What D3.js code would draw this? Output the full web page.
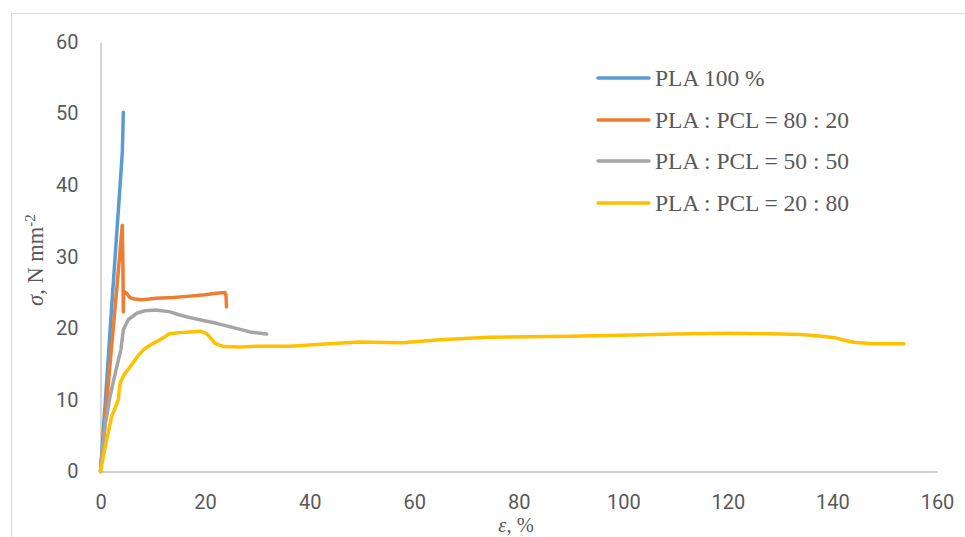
<!DOCTYPE html>
<html>
<head>
<meta charset="utf-8">
<script src="https://cdn.jsdelivr.net/npm/d3@7"></script>
<style>
  html, body { margin: 0; padding: 0; background: #fff; }
  svg { display: block; }
</style>
</head>
<body>
<svg id="chart" width="965" height="537"></svg>
<script>
// ---- data ----
const seriesNames = ["PLA 100 %", "PLA : PCL = 80 : 20", "PLA : PCL = 50 : 50", "PLA : PCL = 20 : 80"];
const seriesColors = ["#5b9bd5", "#ed7d31", "#a5a5a5", "#ffc000"];

const pla100 = [[0,0],[1,10.6],[2.1,22.6],[3.1,33.2],[4.17,44.5],[4.28,47.5],[4.36,50.2]];
const pla80 = [[0,0],[1,8.2],[2,16.4],[3,24.6],[3.6,29.6],[4.17,34.4],[4.3,28],[4.36,22.3],[4.42,24.6],[4.6,25.1],[5.0,24.9],[5.6,24.3],[6.5,24.1],[8,24.0],[10.7,24.2],[14,24.3],[17.1,24.5],[20,24.7],[22.2,24.9],[23.8,25.0],[24.0,24.6],[24.1,23.0]];
const pla50 = [[0,0],[0.3,2.5],[1,7],[1.82,10.45],[3.1,14.6],[3.9,17.0],[4.1,18.2],[4.36,19.8],[5.3,21.2],[6.9,22.1],[8.5,22.45],[10.7,22.56],[13.3,22.3],[15,21.9],[17.1,21.5],[20.3,21.0],[22.2,20.7],[25.4,20.1],[28.6,19.5],[31.8,19.2]];
const pla20 = [[0,0],[0.54,2.07],[1.2,4.5],[2.14,7.7],[3.4,10.0],[3.73,12.3],[4.5,13.5],[5.64,14.6],[7,16],[8.2,17.0],[9.8,17.8],[11.4,18.4],[12.3,18.8],[13.0,19.2],[15,19.4],[17.1,19.5],[19.0,19.6],[20.2,19.3],[20.9,18.8],[21.9,17.9],[23.5,17.45],[26.7,17.4],[30,17.5],[36.2,17.5],[43,17.8],[49.4,18.1],[57.7,18.0],[65,18.4],[74.2,18.75],[90,18.9],[101.8,19.07],[110,19.2],[120.2,19.3],[128,19.25],[134,19.15],[138,18.9],[140.4,18.7],[142.5,18.3],[144.1,18.05],[147.7,17.85],[153.7,17.85]];
const seriesData = [pla100, pla80, pla50, pla20];

const xTicks = [0,20,40,60,80,100,120,140,160];
const yTicks = [0,10,20,30,40,50,60];

// ---- layout ----
const svg = d3.select("#chart");
const plotLeft = 100.5, plotRight = 937, plotTop = 42, plotBottom = 471.5;

svg.append("rect").attr("x", 11.5).attr("y", 13.5).attr("width", 1000).attr("height", 600)
  .attr("fill", "none").attr("stroke", "#d9d9d9").attr("stroke-width", 1);

const x = d3.scaleLinear().domain([0,160]).range([plotLeft, plotRight]);
const y = d3.scaleLinear().domain([0,60]).range([plotBottom, plotTop]);

const tickFont = "Roboto, 'Open Sans', sans-serif";

// axes
const xAxis = svg.append("g").attr("transform", `translate(0,${plotBottom})`)
  .call(d3.axisBottom(x).tickValues(xTicks).tickSize(0).tickPadding(23));
xAxis.select(".domain").attr("stroke", "#bfbfbf").attr("stroke-width", 1.3);
xAxis.selectAll("text").attr("font-family", tickFont).attr("font-size", 20).attr("fill", "#595959");

const yAxis = svg.append("g").attr("transform", `translate(${plotLeft},0)`)
  .call(d3.axisLeft(y).tickValues(yTicks).tickSize(0).tickPadding(22));
yAxis.select(".domain").attr("stroke", "#bfbfbf").attr("stroke-width", 1.3);
yAxis.selectAll("text").attr("font-family", tickFont).attr("font-size", 20).attr("fill", "#595959");

// lines
const line = d3.line().x(d => x(d[0])).y(d => y(d[1]));
seriesData.forEach((data, i) => {
  svg.append("path").datum(data).attr("d", line)
    .attr("fill", "none").attr("stroke", seriesColors[i])
    .attr("stroke-width", 3.5).attr("stroke-linejoin", "round").attr("stroke-linecap", "round");
});

// axis titles
const serif = "'Liberation Serif', 'Times New Roman', serif";
const xt = svg.append("text").attr("x", 516).attr("y", 532).attr("text-anchor", "middle")
  .attr("font-family", serif).attr("font-size", 20.5).attr("fill", "#595959");
xt.append("tspan").attr("font-style", "italic").text("ε");
xt.append("tspan").text(", %");

const yt = svg.append("text").attr("transform", "translate(43,260) rotate(-90)").attr("text-anchor", "middle")
  .attr("font-family", serif).attr("font-size", 22.5).attr("fill", "#595959");
yt.append("tspan").attr("font-style", "italic").text("σ");
yt.append("tspan").text(", N mm");
yt.append("tspan").attr("dy", -8).attr("font-size", 15).text("-2");

// legend
const legendY = [78, 120, 161, 203];
seriesNames.forEach((name, i) => {
  const g = svg.append("g").attr("transform", `translate(0,${legendY[i]})`);
  g.append("line").attr("x1", 598).attr("x2", 649).attr("y1", 0).attr("y2", 0)
    .attr("stroke", seriesColors[i]).attr("stroke-width", 3.5).attr("stroke-linecap", "round");
  g.append("text").attr("x", 655).attr("y", 7.5).attr("font-family", serif).attr("font-size", 23.5)
    .attr("fill", "#595959").text(name);
});
</script>
</body>
</html>
